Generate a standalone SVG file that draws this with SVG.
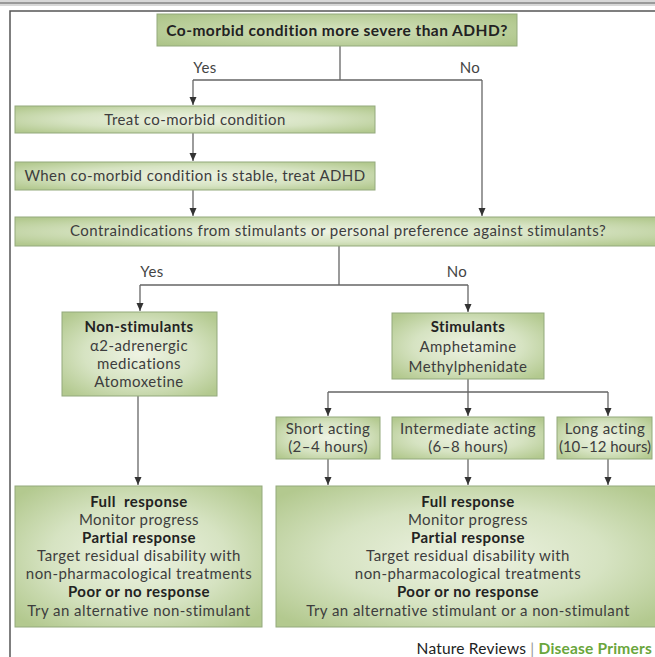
<svg xmlns="http://www.w3.org/2000/svg" width="655" height="657" viewBox="0 0 655 657">
<defs>
<radialGradient id="g" cx="50%" cy="50%" r="65%">
<stop offset="0" stop-color="#eef3e3"/>
<stop offset="0.55" stop-color="#d6e3c2"/>
<stop offset="1" stop-color="#b3c98f"/>
</radialGradient>
<radialGradient id="gt" cx="50%" cy="50%" r="70%">
<stop offset="0" stop-color="#d4e2bd"/>
<stop offset="1" stop-color="#abc386"/>
</radialGradient>
<marker id="ah" viewBox="0 0 8 8" refX="8" refY="4" markerWidth="8" markerHeight="8" markerUnits="userSpaceOnUse" orient="auto">
<path d="M0,0.5 L8,4 L0,7.5 Z" fill="#333"/>
</marker>
</defs>
<style>
.box{fill:url(#g);stroke:#93a97c;stroke-width:1}
.top{fill:url(#gt);stroke:#93a97c;stroke-width:1}
.ln{fill:none;stroke:#666;stroke-width:1.3}
.ar{fill:none;stroke:#666;stroke-width:1.3;marker-end:url(#ah)}
text{font-family:Lato,"Open Sans","Liberation Sans",sans-serif;font-size:15px;letter-spacing:0.45px;fill:#3d3d3d;text-anchor:middle}
.b{font-weight:bold;fill:#222}
.lbl{font-size:15px;fill:#444}
.tight{letter-spacing:0px}
</style>
<rect x="0" y="0" width="655" height="6" fill="#d8d8d8"/>
<rect x="0" y="2" width="655" height="2" fill="#9a9a9a"/>
<path d="M10,657 V11 H655" fill="none" stroke="#555" stroke-width="1.5"/>

<g id="connectors">
<path class="ln" d="M340,46 V80 M193,80 H482"/>
<path class="ar" d="M193,80 V105"/>
<path class="ar" d="M193,133 V161"/>
<path class="ar" d="M193,190 V216"/>
<path class="ar" d="M482,80 V216"/>
<path class="ln" d="M339,246 V285 M140,285 H468"/>
<path class="ar" d="M140,285 V311"/>
<path class="ar" d="M468,285 V312"/>
<path class="ln" d="M468,379 V392 M328,392 H608"/>
<path class="ar" d="M328,392 V416"/>
<path class="ar" d="M468,392 V416"/>
<path class="ar" d="M608,392 V416"/>
<path class="ar" d="M138,396 V485"/>
<path class="ar" d="M328,459 V485"/>
<path class="ar" d="M468,459 V485"/>
<path class="ar" d="M608,459 V485"/>
<text class="lbl" x="205" y="73">Yes</text>
<text class="lbl" x="470" y="73">No</text>
<text class="lbl" x="152" y="277">Yes</text>
<text class="lbl" x="457" y="277">No</text>
</g>

<g id="q1">
<rect class="top" x="157" y="14" width="360" height="32"/>
<text class="b" x="337" y="36" style="font-size:15.5px">Co-morbid condition more severe than ADHD?</text>
</g>
<g id="treat">
<rect class="box" x="15" y="106" width="360" height="27"/>
<text x="195" y="125">Treat co-morbid condition</text>
</g>
<g id="stable">
<rect class="box" x="15" y="162" width="360" height="28"/>
<text x="195" y="181">When co-morbid condition is stable, treat ADHD</text>
</g>
<g id="q2">
<rect class="box" x="15" y="217" width="645" height="29"/>
<text x="338" y="236">Contraindications from stimulants or personal preference against stimulants?</text>
</g>
<g id="nonstim">
<rect class="box" x="62" y="312" width="155" height="84"/>
<text class="b" x="139" y="332">Non-stimulants</text>
<text x="139" y="351">α2-adrenergic</text>
<text x="139" y="369">medications</text>
<text x="139" y="387">Atomoxetine</text>
</g>
<g id="stim">
<rect class="box" x="392" y="313" width="152" height="66"/>
<text class="b" x="468" y="332">Stimulants</text>
<text x="468" y="352">Amphetamine</text>
<text x="468" y="372">Methylphenidate</text>
</g>
<g id="short">
<rect class="box" x="276" y="417" width="104" height="42"/>
<text x="328" y="434">Short acting</text>
<text x="328" y="452">(2–4 hours)</text>
</g>
<g id="inter">
<rect class="box" x="392" y="417" width="152" height="42"/>
<text x="468" y="434">Intermediate acting</text>
<text x="468" y="452">(6–8 hours)</text>
</g>
<g id="long">
<rect class="box" x="557" y="417" width="95" height="42"/>
<text x="605" y="434">Long acting</text>
<text class="tight" x="605" y="452">(10–12 hours)</text>
</g>
<g id="resp-nonstim">
<rect class="box" x="15" y="486" width="247" height="141"/>
<text class="b" x="139" y="507" xml:space="preserve">Full  response</text>
<text x="139" y="525">Monitor progress</text>
<text class="b" x="139" y="543">Partial response</text>
<text x="139" y="561">Target residual disability with</text>
<text x="139" y="579">non-pharmacological treatments</text>
<text class="b" x="139" y="597">Poor or no response</text>
<text x="139" y="616">Try an alternative non-stimulant</text>
</g>
<g id="resp-stim">
<rect class="box" x="276" y="486" width="384" height="141"/>
<text class="b" x="468" y="507">Full response</text>
<text x="468" y="525">Monitor progress</text>
<text class="b" x="468" y="543">Partial response</text>
<text x="468" y="561">Target residual disability with</text>
<text x="468" y="579">non-pharmacological treatments</text>
<text class="b" x="468" y="597">Poor or no response</text>
<text x="468" y="616">Try an alternative stimulant or a non-stimulant</text>
</g>
<g id="footer">
<text x="652" y="654" style="text-anchor:end;fill:#222;font-size:15.5px;letter-spacing:0.2px">Nature Reviews <tspan fill="#999">|</tspan> <tspan font-weight="bold" fill="#6aa63c">Disease Primers</tspan></text>
</g>
</svg>
